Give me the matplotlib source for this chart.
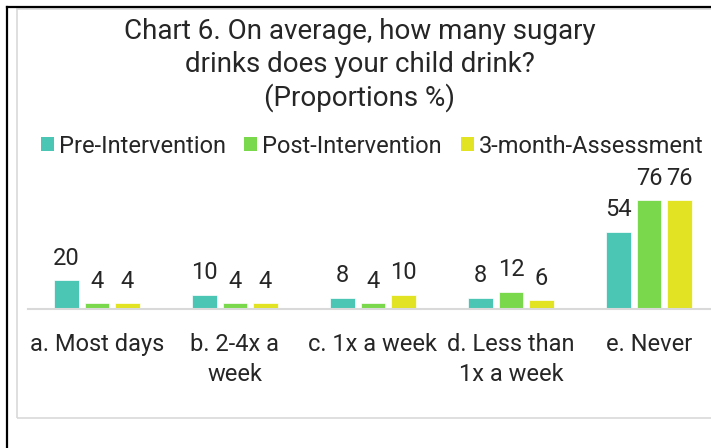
import matplotlib
matplotlib.use("Agg")
import matplotlib.pyplot as plt
from matplotlib.patches import Rectangle, Patch
from matplotlib.lines import Line2D
import numpy as np

# Data
categories = ["a. Most days", "b. 2-4x a\nweek", "c. 1x a week", "d. Less than\n1x a week", "e. Never"]
series_names = ["Pre-Intervention", "Post-Intervention", "3-month-Assessment"]
pre = [20, 10, 8, 8, 54]
post = [4, 4, 4, 12, 76]
three_month = [4, 4, 10, 6, 76]
colors = ["#4BC6B4", "#7AD84C", "#E1E323"]

plt.rcParams["font.family"] = ["Roboto", "DejaVu Sans"]

W, H = 711, 448
fig = plt.figure(figsize=(W / 100, H / 100), dpi=100)

def px(x, y):
    return x / W, 1 - y / H

# outer frame lines and chart box
fig.add_artist(Line2D([7 / W, 1], [1 - 7 / H] * 2, color="black", lw=1.6))
fig.add_artist(Line2D([7 / W] * 2, [0, 1 - 7 / H], color="black", lw=1.6))
fig.add_artist(Rectangle(px(16.5, 417.5), (720 - 16.5) / W, (417.5 - 9) / H,
                         fill=False, edgecolor="#D9D9D9", lw=1.2))

# axes
ymax = 80
scale = 1.43
left, base = 28, 309
ax = fig.add_axes([left / W, 1 - base / H, 690 / W, ymax * scale / H])
x = np.arange(len(categories))
width = 0.174
offset = 0.221
for i, (vals, c) in enumerate(zip([pre, post, three_month], colors)):
    bars = ax.bar(x + (i - 1) * offset, vals, width, color=c, edgecolor="white", linewidth=0.5)
    for b, v in zip(bars, vals):
        ax.annotate(str(v), (b.get_x() + b.get_width() / 2, v), xytext=(0, 7.5),
                    textcoords="offset points", ha="center", va="bottom",
                    fontsize=17, color="#262626")

ax.set_xlim(-0.5, 4.5)
ax.set_ylim(0, ymax)
ax.set_yticks([])
ax.set_xticks(x)
ax.set_xticklabels(categories, fontsize=17, color="#262626", linespacing=1.4)
ax.tick_params(axis="x", length=0, pad=17)
for s in ["top", "right", "left"]:
    ax.spines[s].set_visible(False)
ax.spines["bottom"].set_color("#D9D9D9")
ax.spines["bottom"].set_linewidth(1.5)
ax.patch.set_alpha(0)

# title
fig.text(360 / W, 1 - 18 / H,
         "Chart 6. On average, how many sugary\ndrinks does your child drink?\n(Proportions %)",
         ha="center", va="top", fontsize=20, color="#262626", linespacing=1.27)

# legend
handles = [Patch(facecolor=c, edgecolor="none") for c in colors]
fig.legend(handles, series_names, loc="center", bbox_to_anchor=(372 / W, 1 - 146 / H),
           ncol=3, frameon=False, fontsize=17, handlelength=0.55, handleheight=0.55,
           handletextpad=0.2, columnspacing=0.8, labelcolor="#262626")

fig.savefig("out.png", dpi=100)
